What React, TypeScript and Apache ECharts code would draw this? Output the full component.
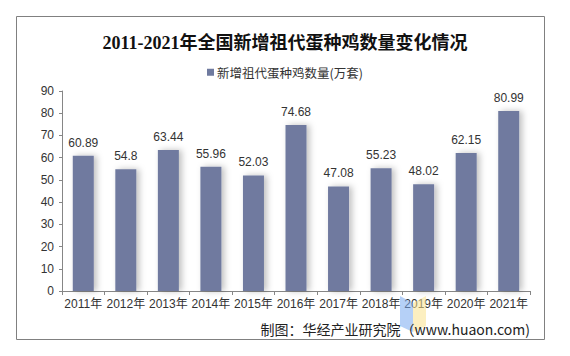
import React, { useEffect, useRef } from "react";
import * as echarts from "echarts";

const categories = ["2011年", "2012年", "2013年", "2014年", "2015年", "2016年", "2017年", "2018年", "2019年", "2020年", "2021年"];
const values = [60.89, 54.8, 63.44, 55.96, 52.03, 74.68, 47.08, 55.23, 48.02, 62.15, 80.99];
const seriesName = "新增祖代蛋种鸡数量(万套)";
const titleText = "2011-2021年全国新增祖代蛋种鸡数量变化情况";
const sourceText = "制图：华经产业研究院（www.huaon.com)";

export default function App() {
  const ref = useRef<HTMLDivElement>(null);
  useEffect(() => {
    document.body.style.margin = "0";
    const chart = echarts.init(ref.current!, null, { renderer: "svg" });
    chart.setOption({
      animation: false,
      backgroundColor: "#ffffff",
      title: {
        text: titleText,
        left: "center",
        top: 29,
        textStyle: {
          fontFamily: "'Liberation Serif', 'Noto Sans CJK SC', serif",
          fontSize: 18,
          fontWeight: "bold",
          color: "#111111",
        },
      },
      legend: {
        top: 61,
        left: "center",
        itemWidth: 7,
        itemHeight: 7,
        itemGap: 4,
        icon: "rect",
        textStyle: {
          fontFamily: "'Noto Sans CJK SC', sans-serif",
          fontSize: 12.5,
          color: "#333333",
          padding: [0, 0, 0, -2],
        },
        data: [seriesName],
      },
      grid: { left: 62, right: 40, top: 91, bottom: 65 },
      xAxis: {
        type: "category",
        data: categories,
        axisLine: { lineStyle: { color: "#868686", width: 1 } },
        axisTick: { show: true, length: 4, lineStyle: { color: "#868686" } },
        axisLabel: {
          interval: 0,
          fontFamily: "'Liberation Sans', 'Noto Sans CJK SC', sans-serif",
          fontSize: 12,
          color: "#333333",
          margin: 7,
        },
      },
      yAxis: {
        type: "value",
        min: 0,
        max: 90,
        interval: 10,
        splitLine: { show: false },
        axisLine: { show: true, lineStyle: { color: "#868686", width: 1 } },
        axisTick: { show: true, length: 3, lineStyle: { color: "#868686" } },
        axisLabel: {
          fontFamily: "'Liberation Sans', sans-serif",
          fontSize: 12,
          color: "#333333",
          margin: 8,
        },
      },
      series: [
        {
          name: seriesName,
          type: "bar",
          data: values,
          barWidth: 21,
          itemStyle: {
            color: "#6F7A9F",
            shadowColor: "rgba(0,0,0,0.25)",
            shadowBlur: 6,
            shadowOffsetX: 3,
            shadowOffsetY: 0,
          },
          label: {
            show: true,
            position: "top",
            distance: 7,
            fontFamily: "'Liberation Sans', sans-serif",
            fontSize: 12,
            color: "#333333",
          },
        },
      ],
      graphic: [
        {
          type: "rect",
          shape: { x: 16.5, y: 16.5, width: 528, height: 323 },
          style: { fill: "none", stroke: "#808080", lineWidth: 1 },
          silent: true,
          z: 100,
        },
        {
          type: "polygon",
          shape: { points: [[400, 296], [413, 303], [413, 332], [400, 326]] },
          style: { fill: "rgba(120,170,240,0.55)" },
          z: 100,
        },
        {
          type: "polygon",
          shape: { points: [[413, 303], [426, 296], [426, 326], [413, 332]] },
          style: { fill: "rgba(250,225,140,0.55)" },
          z: 100,
        },
        {
          type: "text",
          right: 40,
          top: 322,
          style: {
            text: sourceText,
            font: "14px 'Noto Sans CJK SC', sans-serif",
            fill: "#222222",
          },
          z: 101,
        },
      ],
    });
    return () => chart.dispose();
  }, []);
  return <div ref={ref} style={{ width: 570, height: 356 }} />;
}
